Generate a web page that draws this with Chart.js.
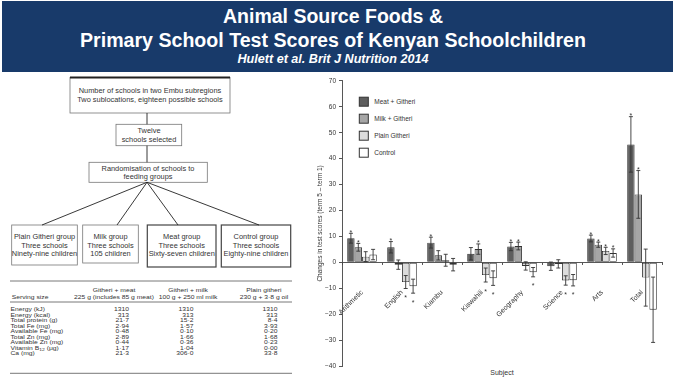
<!DOCTYPE html>
<html><head><meta charset="utf-8">
<script src="https://cdn.jsdelivr.net/npm/chart.js@4.4.0/dist/chart.umd.min.js"></script>
<style>
html,body{margin:0;padding:0;background:#fff;}
#wrap{position:relative;width:679px;height:380px;overflow:hidden;font-family:Arial,"Liberation Sans",sans-serif;}
#bg{position:absolute;left:0;top:0;}
#c{position:absolute;left:312px;top:74px;}
svg text{font-family:Arial,"Liberation Sans",sans-serif;}
</style></head><body>
<div id="wrap">
<svg id="bg" width="679" height="380" xmlns="http://www.w3.org/2000/svg">
  <rect x="2" y="1" width="671" height="71" fill="#183a6a"/>
  <g fill="#ffffff" text-anchor="middle" font-weight="bold">
    <text x="333" y="23" font-size="19.5">Animal Source Foods &amp;</text>
    <text x="333" y="46.5" font-size="19.6">Primary School Test Scores of Kenyan Schoolchildren</text>
    <text x="333" y="63.3" font-size="12.6" font-style="italic">Hulett et al. Brit J Nutrition 2014</text>
  </g>
  <g stroke="#777" fill="none" stroke-width="0.8">
    <rect x="70" y="77.5" width="160" height="35.5"/>
    <rect x="116" y="124.3" width="65.7" height="21.4"/>
    <rect x="89" y="162.3" width="118.3" height="20"/>
    <rect x="11.7" y="225" width="65.6" height="40"/>
    <rect x="82.7" y="225" width="55.6" height="38"/>
    <rect x="147.3" y="225" width="68.7" height="42" stroke="#444" stroke-width="1.2"/>
    <rect x="221.3" y="225" width="69.4" height="42" stroke="#444" stroke-width="1.2"/>
  </g>
  <g stroke="#222" stroke-width="0.9">
    <line x1="70" y1="77.5" x2="230" y2="77.5" stroke-width="2"/>
    <line x1="147" y1="113" x2="147" y2="124.3"/>
    <line x1="147" y1="145.7" x2="147" y2="162.3"/>
    <line x1="147" y1="182.3" x2="42" y2="225"/>
    <line x1="147" y1="182.3" x2="117" y2="225"/>
    <line x1="147" y1="182.3" x2="178" y2="225"/>
    <line x1="147" y1="182.3" x2="259" y2="225"/>
  </g>
  <g fill="#333" text-anchor="middle" font-size="7.4">
    <text x="150" y="93.3">Number of schools in two Embu subregions</text>
    <text x="150" y="101.6">Two sublocations, eighteen possible schools</text>
    <text x="149" y="132.5">Twelve</text>
    <text x="149" y="141.8">schools selected</text>
    <text x="148" y="170.8">Randomisation of schools to</text>
    <text x="148" y="179.2">feeding groups</text>
    <text x="44.5" y="239.2">Plain Githeri group</text>
    <text x="44.5" y="247.5">Three schools</text>
    <text x="44.5" y="255.8">Ninety-nine children</text>
    <text x="110.5" y="239.2">Milk group</text>
    <text x="110.5" y="247.5">Three schools</text>
    <text x="110.5" y="255.8">105 children</text>
    <text x="181.7" y="239.2">Meat group</text>
    <text x="181.7" y="247.5">Three schools</text>
    <text x="181.7" y="255.8">Sixty-seven children</text>
    <text x="256" y="239.2">Control group</text>
    <text x="256" y="247.5">Three schools</text>
    <text x="256" y="255.8">Eighty-nine children</text>
  </g>
  <g stroke="#555" stroke-width="0.8">
    <line x1="10" y1="281" x2="292" y2="281"/>
    <line x1="10" y1="302" x2="292" y2="302"/>
    <line x1="10" y1="373.3" x2="292" y2="373.3"/>
  </g>
  <g id="tbl" fill="#333" font-size="5.4"></g>
  <g id="leg"></g>
  <text x="502" y="374.5" font-size="7" fill="#333" text-anchor="middle">Subject</text>
</svg>
<canvas id="c" width="367" height="306"></canvas>
</div>
<script>
// ---- chart data ----
const categories = ['Arithmetic','English','Kiambu','Kiswahili','Geography','Science','Arts','Total'];
const seriesNames = ['Meat + Githeri','Milk + Githeri','Plain Githeri','Control'];
const meat       = [9.3, 5.8, 7.6, 3.3, 6.1, -1.5, 9.2, 45.5];
const meatErr    = [1.9, 2.2, 2.1, 2.4, 1.6, 1.6, 1.3, 10.7];
const milk       = [5.8, -0.9, 2.7, 5.1, 6.3, -0.6, 6.8, 26.2];
const milkErr    = [1.5, 1.8, 1.8, 2.0, 1.5, 1.6, 1.0, 9.2];
const plain      = [2.2, -7.6, 0.8, -4.9, -1.4, -7.0, 4.4, -5.9];
const plainErr   = [1.9, 2.5, 2.3, 2.7, 1.6, 1.8, 1.4, 11.0];
const control    = [3.0, -9.2, -0.9, -6.1, -3.8, -6.9, 3.6, -18.3];
const controlErr = [2.0, 2.7, 2.4, 2.8, 1.8, 2.2, 1.6, 12.6];
const meatSig    = [1,1,1,0,1,0,1,1];
const milkSig    = [1,0,0,1,1,0,1,1];
const plainSig   = [0,1,0,1,0,1,1,0];
const controlSig = [0,1,0,1,1,1,1,0];
const yTicks = [70,60,50,40,30,20,10,0,-10,-20,-30,-40];

// ---- table data ----
const tableCols = [['Githeri + meat','225 g (includes 85 g meat)'],['Githeri + milk','100 g + 250 ml milk'],['Plain githeri','230 g + 3·8 g oil']];
const tableRows = ['Energy (kJ)','Energy (kcal)','Total protein (g)','Total Fe (mg)','Available Fe (mg)','Total Zn (mg)','Available Zn (mg)','Vitamin B|12| (μg)','Ca (mg)'];
const colMeat  = ['1310','313','21·7','2·94','0·48','2·89','0·44','1·17','21·3'];
const colMilk  = ['1310','313','15·2','1·57','0·10','1·66','0·36','1·04','306·0'];
const colPlain = ['1310','313','8·4','3·93','0·20','1·68','0·23','0·00','33·8'];

const fills = ['#5e5e5e','#a6a6a6','#dcdcdc','#ffffff'];
const NS = 'http://www.w3.org/2000/svg';
function svgText(parent, str, x, y, anchor, sx){
  const t = document.createElementNS(NS,'text');
  t.setAttribute('transform','translate('+x+','+y+') scale('+(sx||1)+',1)');
  if (anchor) t.setAttribute('text-anchor', anchor);
  const parts = str.split('|');
  parts.forEach((p,k)=>{
    const s = document.createElementNS(NS,'tspan');
    s.textContent = p;
    if (k%2===1){ s.setAttribute('font-size','4'); s.setAttribute('dy','1.2'); }
    else if (k>0){ s.setAttribute('dy','-1.2'); }
    t.appendChild(s);
  });
  parent.appendChild(t);
  return t;
}
const tbl = document.getElementById('tbl');
const SX = 1.25;
svgText(tbl,'Serving size',11.7,299,'start',SX);
const hdrX = [114,188,264];
tableCols.forEach((c,i)=>{ svgText(tbl,c[0],hdrX[i],292,'middle',SX); svgText(tbl,c[1],hdrX[i],299,'middle',SX); });
const valX = [129,193.5,277.5];
tableRows.forEach((r,i)=>{
  const y = 311.2 + 5.5*i;
  svgText(tbl,r,10.5,y,'start',SX);
  svgText(tbl,colMeat[i],valX[0],y,'end',SX);
  svgText(tbl,colMilk[i],valX[1],y,'end',SX);
  svgText(tbl,colPlain[i],valX[2],y,'end',SX);
});

// legend
const leg = document.getElementById('leg');
seriesNames.forEach((n,i)=>{
  const cy = 101.7 + 17*i;
  const r = document.createElementNS(NS,'rect');
  r.setAttribute('x',359.3); r.setAttribute('y',cy-4.5); r.setAttribute('width',9); r.setAttribute('height',9);
  r.setAttribute('fill',fills[i]); r.setAttribute('stroke','#333'); r.setAttribute('stroke-width','1');
  leg.appendChild(r);
  const t = svgText(leg,n,374.3,cy+2.3,'start',1);
  t.setAttribute('font-size','6.5'); t.setAttribute('fill','#333');
});

Chart.defaults.font.family = 'Arial, "Liberation Sans", sans-serif';
Chart.defaults.color = '#333';

const errPlugin = {
  id:'errbars',
  afterDatasetsDraw(chart){
    const ctx = chart.ctx, ys = chart.scales.y;
    ctx.save();
    ctx.strokeStyle = '#333'; ctx.fillStyle = '#333'; ctx.lineWidth = 0.9;
    ctx.font = '7px Arial, "Liberation Sans", sans-serif';
    ctx.textAlign = 'center'; ctx.textBaseline = 'alphabetic';
    chart.data.datasets.forEach((ds,di)=>{
      const meta = chart.getDatasetMeta(di);
      meta.data.forEach((bar,i)=>{
        const v = ds.data[i], e = ds.errors[i], x = bar.x;
        const yt = ys.getPixelForValue(v+e), yb = ys.getPixelForValue(v-e);
        ctx.beginPath();
        ctx.moveTo(x,yt); ctx.lineTo(x,yb);
        ctx.moveTo(x-2,yt); ctx.lineTo(x+2,yt);
        ctx.moveTo(x-2,yb); ctx.lineTo(x+2,yb);
        ctx.stroke();
        if (ds.sig[i]) {
          if (v >= 0) ctx.fillText('*', x, yt+1.5);
          else ctx.fillText('*', x, yb+11.5);
        }
      });
    });
    ctx.restore();
  }
};

const vals = [meat, milk, plain, control];
const errs = [meatErr, milkErr, plainErr, controlErr];
const sigs = [meatSig, milkSig, plainSig, controlSig];

new Chart(document.getElementById('c'), {
  type:'bar',
  data:{
    labels: categories,
    datasets: seriesNames.map((n,i)=>({
      label:n, data:vals[i], errors:errs[i], sig:sigs[i],
      backgroundColor:fills[i], borderColor:'#333', borderWidth:0.9, borderSkipped:false,
      categoryPercentage:0.74, barPercentage:1.0
    }))
  },
  options:{
    responsive:false, animation:false, devicePixelRatio:1,
    layout:{padding:{left:0,top:6,right:17,bottom:14}},
    plugins:{legend:{display:false}, tooltip:{enabled:false}},
    scales:{
      x:{
        position:{y:0},
        grid:{display:true, drawOnChartArea:false, drawTicks:true, tickLength:2, offset:true, color:'#555'},
        border:{display:true, color:'#444', width:0.9},
        ticks:{minRotation:45, maxRotation:45, autoSkip:false, padding:24, font:{size:7}, color:'#333'}
      },
      y:{
        min:-40, max:70,
        afterFit(s){ s.width = 30; },
        afterBuildTicks(s){ s.ticks = yTicks.map(v=>({value:v})); },
        grid:{display:true, drawOnChartArea:false, drawTicks:true, tickLength:3, color:'#555'},
        border:{display:true, color:'#444', width:0.9},
        ticks:{font:{size:6.5}, color:'#333', padding:3,
          callback:v=> v<0 ? '\u2212'+Math.abs(v) : String(v)},
        title:{display:true, text:'Changes in test scores (term 5 \u2013 term 1)', font:{size:6.5}, color:'#333', padding:{top:4,bottom:0}}
      }
    }
  },
  plugins:[errPlugin]
});
</script>
</body></html>
